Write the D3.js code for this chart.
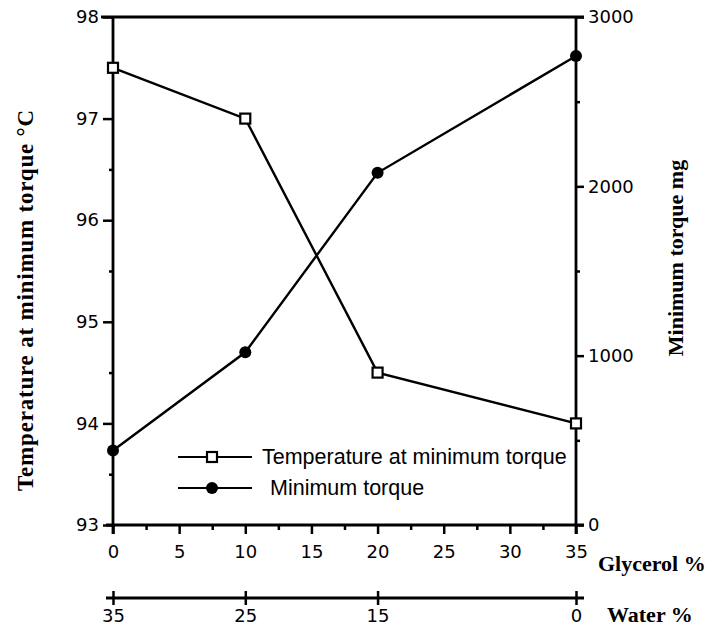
<!DOCTYPE html>
<html>
  <head>
    <meta charset="UTF-8" />
    <style>
      body {
        margin: 0;
        background: #fff;
      }
      .tick-label {
        font-family: 'DejaVu Sans', sans-serif;
        font-size: 18px;
        fill: #000;
      }
      .title {
        font-family: 'Liberation Serif', 'Times New Roman', serif;
        font-weight: bold;
        font-size: 22px;
        fill: #000;
      }
      .legend {
        font-family: 'Liberation Sans', Arial, sans-serif;
        font-size: 21.5px;
        fill: #000;
      }
    </style>
  </head>
  <body>
    <svg></svg>
    <script src="https://d3js.org/d3.v7.min.js"></script>
    <script>
      // data
      let glycerol = [0, 10, 20, 35]
      let temperature = [97.5, 97.0, 94.5, 94.0]
      let torque = [440, 1020, 2080, 2770]

      let glycerolTicks = [0, 5, 10, 15, 20, 25, 30, 35]
      let waterTicks = [35, 25, 15, 0]
      let tempTicks = [93, 94, 95, 96, 97, 98]
      let torqueTicks = [0, 1000, 2000, 3000]

      let width = 714,
        height = 629

      let svg = d3.select('svg').attr('width', width).attr('height', height)

      let x = d3.scaleLinear().domain([0, 35]).range([113, 576])
      // water % runs the other way: water = 35 - glycerol
      let xWater = d3.scaleLinear().domain([35, 0]).range([113, 576])
      let yT = d3.scaleLinear().domain([93, 98]).range([525, 17])
      let yM = d3.scaleLinear().domain([0, 3000]).range([525, 17])

      function styleAxis(sel) {
        sel.select('.domain').remove()
        sel.selectAll('.tick line').attr('stroke', '#000').attr('stroke-width', 2.5)
        sel.selectAll('.tick text').attr('class', 'tick-label').attr('font-size', null).attr('font-family', null)
      }

      function rule(x1, y1, x2, y2) {
        svg.append('line')
          .attr('x1', x1).attr('y1', y1).attr('x2', x2).attr('y2', y2)
          .attr('stroke', '#000').attr('stroke-width', 2.8)
      }

      let leftAxis = d3.axisLeft(yT).tickValues(tempTicks).tickSize(10).tickPadding(4).tickFormat(d3.format('d'))
      let leftMinor = d3.axisLeft(yT).tickValues([93.5, 94.5, 95.5, 96.5, 97.5]).tickSize(4).tickFormat('')
      let rightAxis = d3.axisRight(yM).tickValues(torqueTicks).tickSize(8).tickPadding(4).tickFormat(d3.format('d'))
      let rightMinor = d3.axisRight(yM).tickValues([500, 1500, 2500]).tickSize(4).tickFormat('')
      let bottomAxis = d3.axisBottom(x).tickValues(glycerolTicks).tickSize(9).tickPadding(11).tickFormat(d3.format('d'))
      let bottomMinor = d3.axisBottom(x).tickValues([2.5, 7.5, 12.5, 17.5, 22.5, 27.5, 32.5]).tickSize(5).tickFormat('')

      svg.append('g').attr('transform', 'translate(113,0)').call(leftAxis).call(styleAxis)
      svg.append('g').attr('transform', 'translate(113,0)').call(leftMinor).call(styleAxis)
      svg.append('g').attr('transform', 'translate(576,0)').call(rightAxis).call(styleAxis)
      svg.append('g').attr('transform', 'translate(576,0)').call(rightMinor).call(styleAxis)
      svg.append('g').attr('transform', 'translate(0,525)').call(bottomAxis).call(styleAxis)
      svg.append('g').attr('transform', 'translate(0,525)').call(bottomMinor).call(styleAxis)

      // frame lines
      rule(101, yT(98), 584, yT(98))
      rule(113, 17, 113, 534)
      rule(576, 17, 576, 534)
      rule(106, 525, 584, 525)

      // water axis
      let waterAxis = d3.axisBottom(xWater).tickValues(waterTicks).tickSize(7).tickPadding(4).tickFormat(d3.format('d'))
      let wg = svg.append('g').attr('transform', 'translate(0,598)').call(waterAxis).call(styleAxis)
      wg.selectAll('.tick line').attr('y1', -7)
      rule(106, 598, 584, 598)

      // axis titles
      svg.append('text')
        .attr('class', 'title')
        .attr('transform', 'translate(33,300) rotate(-90)')
        .attr('text-anchor', 'middle')
        .style('font-size', '23px')
        .attr('letter-spacing', 0.8)
        .text('Temperature at minimum torque °C')
      svg.append('text')
        .attr('class', 'title')
        .attr('transform', 'translate(683,258) rotate(-90)')
        .attr('text-anchor', 'middle')
        .text('Minimum torque mg')
      svg.append('text').attr('class', 'title').attr('x', 598).attr('y', 571).text('Glycerol %')
      svg.append('text').attr('class', 'title').attr('x', 607).attr('y', 622).text('Water %')

      // series
      let tempData = glycerol.map((d, i) => ({ x: d, y: temperature[i] }))
      let torqueData = glycerol.map((d, i) => ({ x: d, y: torque[i] }))

      svg.append('path')
        .datum(tempData)
        .attr('fill', 'none').attr('stroke', '#000').attr('stroke-width', 2.4)
        .attr('d', d3.line().x((d) => x(d.x)).y((d) => yT(d.y)))
      svg.append('path')
        .datum(torqueData)
        .attr('fill', 'none').attr('stroke', '#000').attr('stroke-width', 2.4)
        .attr('d', d3.line().x((d) => x(d.x)).y((d) => yM(d.y)))

      svg.selectAll('.sq')
        .data(tempData)
        .enter()
        .append('rect')
        .attr('x', (d) => x(d.x) - 5).attr('y', (d) => yT(d.y) - 5)
        .attr('width', 10).attr('height', 10)
        .attr('fill', '#fff').attr('stroke', '#000').attr('stroke-width', 2.2)
      svg.selectAll('.dot')
        .data(torqueData)
        .enter()
        .append('circle')
        .attr('cx', (d) => x(d.x)).attr('cy', (d) => yM(d.y))
        .attr('r', 6).attr('fill', '#000')

      // legend
      let lg = svg.append('g')
      lg.append('line').attr('x1', 178).attr('x2', 252).attr('y1', 457).attr('y2', 457)
        .attr('stroke', '#000').attr('stroke-width', 2.2)
      lg.append('rect').attr('x', 207).attr('y', 452).attr('width', 10).attr('height', 10)
        .attr('fill', '#fff').attr('stroke', '#000').attr('stroke-width', 2.2)
      lg.append('text').attr('class', 'legend').attr('x', 262).attr('y', 464).text('Temperature at minimum torque')
      lg.append('line').attr('x1', 178).attr('x2', 252).attr('y1', 488).attr('y2', 488)
        .attr('stroke', '#000').attr('stroke-width', 2.2)
      lg.append('circle').attr('cx', 212).attr('cy', 488).attr('r', 6).attr('fill', '#000')
      lg.append('text').attr('class', 'legend').attr('x', 270).attr('y', 495).text('Minimum torque')
    </script>
  </body>
</html>
